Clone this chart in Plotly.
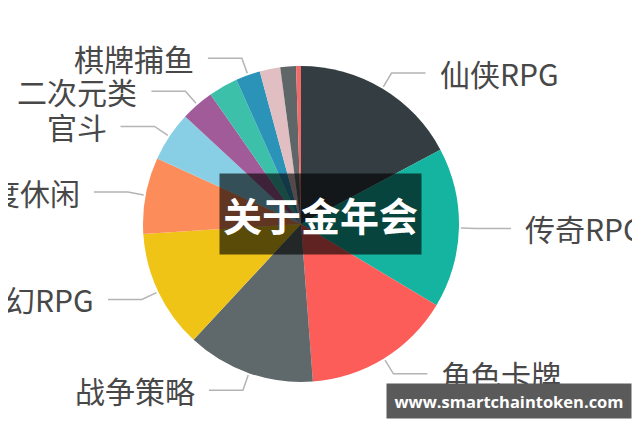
import math
import plotly.graph_objects as go

# ---- data ----
categories = ["仙侠RPG", "传奇RPG", "角色卡牌", "战争策略", "魔幻RPG", "轻度休闲",
              "官斗", "二次元类", "", "棋牌捕鱼", "", "", ""]
values = [17.2, 16.4, 15.2, 13.1, 12.1, 7.8, 5.1, 3.4, 3.0, 2.5, 2.1, 1.6, 0.5]
colors = ["#343e42", "#14b4a0", "#fc5d58", "#5f686a", "#f0c417", "#fc8d5a",
          "#88cfe6", "#a05b98", "#3cc0aa", "#2b93b8", "#e0bec2", "#5f6668", "#f26a6a"]
overlay_title = "关于金年会"
watermark = "www.smartchaintoken.com"

# ---- geometry (page pixels; page body has an 8px margin) ----
OFF = 8
W, H = 640 - OFF, 427 - OFF
CX, CY, R = 301, 224, 158


def px(x):
    return (x - OFF) / W


def py(y):
    return 1 - (y - OFF) / H


fig = go.Figure(go.Pie(
    values=values,
    text=categories,
    marker=dict(colors=colors, line=dict(width=0)),
    sort=False,
    direction="clockwise",
    rotation=0,
    textinfo="none",
    hovertemplate="%{text}: %{value}%<extra></extra>",
    domain=dict(x=[px(CX - R), px(CX + R)], y=[py(CY + R), py(CY - R)]),
    showlegend=False,
))

shapes = []
annotations = []
total = sum(values)
cum = 0.0
for name, v in zip(categories, values):
    mid = (cum + v / 2) / total * 2 * math.pi
    cum += v
    if not name:
        continue
    s, c = math.sin(mid), math.cos(mid)
    x0, y0 = CX + (R + 2) * s, CY - (R + 2) * c
    x1, y1 = CX + (R + 18) * s, CY - (R + 18) * c
    side = 1 if s >= 0 else -1
    x2 = x1 + side * 34
    shapes.append(dict(
        type="path", xref="paper", yref="paper",
        path=f"M {px(x0)} {py(y0)} L {px(x1)} {py(y1)} L {px(x2)} {py(y1)}",
        line=dict(color="#b4b4b4", width=1.5),
    ))
    annotations.append(dict(
        x=px(x2 + side * 12), y=py(y1), xref="paper", yref="paper",
        text=name, showarrow=False,
        xanchor="left" if side > 0 else "right", yanchor="middle",
        font=dict(family="Noto Sans CJK SC", size=30, color="#484848"),
    ))

annotations.append(dict(
    x=px(320.5), y=py(214), xref="paper", yref="paper",
    text=f"<b>{overlay_title}</b>", showarrow=False,
    xanchor="center", yanchor="middle",
    width=201, height=80, borderpad=0,
    bgcolor="rgba(0,0,0,0.62)",
    font=dict(family="Noto Sans CJK SC", size=39, color="#ffffff"),
))
annotations.append(dict(
    x=px(509), y=py(401), xref="paper", yref="paper",
    text=f"<b>{watermark}</b>", showarrow=False,
    xanchor="center", yanchor="middle",
    width=244, height=34, borderpad=0,
    bgcolor="#5a5a5a",
    font=dict(family="Open Sans", size=16.5, color="#ffffff"),
))

fig.update_layout(
    width=W, height=H,
    margin=dict(l=0, r=0, t=0, b=0),
    paper_bgcolor="#ffffff",
    plot_bgcolor="#ffffff",
    shapes=shapes,
    annotations=annotations,
)

fig.write_html("out.html")
